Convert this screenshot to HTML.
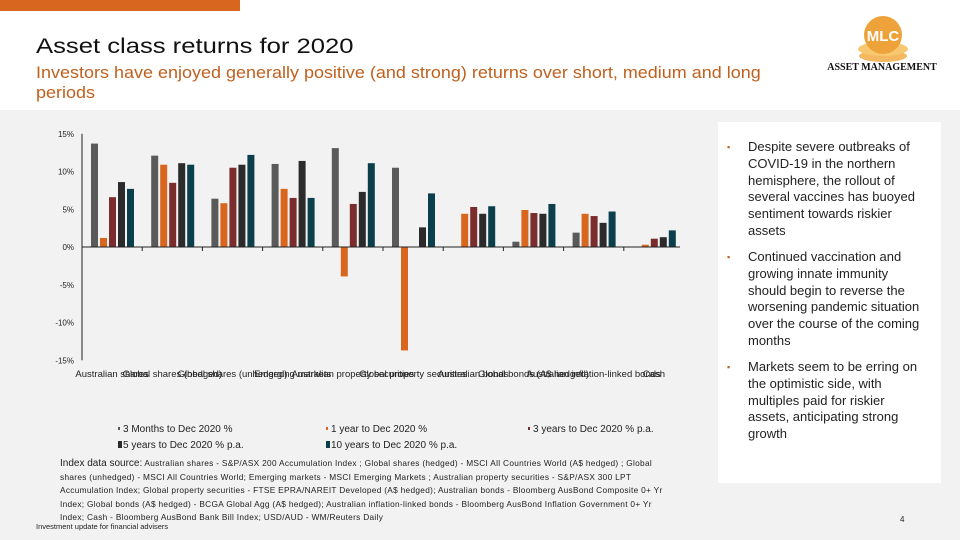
<!DOCTYPE html>
<html><head><meta charset="utf-8"><style>
body{margin:0;width:960px;height:540px;overflow:hidden;background:#f2f2f2;font-family:"Liberation Sans",sans-serif;position:relative}
.abs{position:absolute}
</style></head><body>
<div class="abs" style="left:0;top:0;width:960px;height:110px;background:#fff"></div>
<div class="abs" style="left:0;top:0;width:240px;height:11px;background:#d9661f"></div>
<div class="abs" style="left:36px;top:35px;font-size:21px;color:#111;transform:scaleX(1.22);transform-origin:left top;white-space:nowrap">Asset class returns for 2020</div>
<div class="abs" style="left:36px;top:63px;width:740px;font-size:16.5px;line-height:20px;color:#c0601e;white-space:nowrap;transform:scaleX(1.09);transform-origin:left top">Investors have enjoyed generally positive (and strong) returns over short, medium and long<br>periods</div>
<div class="abs" style="left:824px;top:12px;width:116px;height:62px">
<svg width="116" height="62"><ellipse cx="59" cy="44" rx="24" ry="6" fill="#f4b860"/><ellipse cx="59" cy="37" rx="25" ry="7" fill="#f7c870"/><circle cx="59" cy="23" r="19" fill="#eea23a"/><text x="59" y="29" text-anchor="middle" font-size="15" font-weight="bold" fill="#fff" font-family="Liberation Sans">MLC</text><text x="58" y="58" text-anchor="middle" font-size="10" font-weight="bold" font-family="Liberation Sans Narrow, Liberation Serif" fill="#111">ASSET MANAGEMENT</text></svg></div>
<div class="abs" style="left:718px;top:122px;width:223px;height:361px;background:#fff;font-size:13px;line-height:16.8px;color:#222;white-space:nowrap">
<div style="position:absolute;left:30px;top:17px;width:190px"><span style="position:absolute;left:-21px;color:#c0601e;font-size:9px">▪</span>Despite severe outbreaks of<br>COVID-19 in the northern<br>hemisphere, the rollout of<br>several vaccines has buoyed<br>sentiment towards riskier<br>assets</div>
<div style="position:absolute;left:30px;top:127px;width:190px"><span style="position:absolute;left:-21px;color:#c0601e;font-size:9px">▪</span>Continued vaccination and<br>growing innate immunity<br>should begin to reverse the<br>worsening pandemic situation<br>over the course of the coming<br>months</div>
<div style="position:absolute;left:30px;top:237px;width:190px"><span style="position:absolute;left:-21px;color:#c0601e;font-size:9px">▪</span>Markets seem to be erring on<br>the optimistic side, with<br>multiples paid for riskier<br>assets, anticipating strong<br>growth</div>
</div>
<svg id="chart" class="abs" style="left:0;top:0" width="700" height="460"></svg>
<div class="abs" style="left:60px;top:457px;font-size:8.3px;letter-spacing:0.3px;line-height:13.5px;color:#222;white-space:nowrap"><span style="font-size:10px;letter-spacing:0">Index data source:</span> Australian shares - S&amp;P/ASX 200 Accumulation Index ; Global shares (hedged) - MSCI All Countries World (A$ hedged) ; Global<br>shares (unhedged) - MSCI All Countries World; Emerging markets - MSCI Emerging Markets ; Australian property securities - S&amp;P/ASX 300 LPT<br>Accumulation Index; Global property securities - FTSE EPRA/NAREIT Developed (A$ hedged); Australian bonds - Bloomberg AusBond Composite 0+ Yr<br>Index; Global bonds (A$ hedged) - BCGA Global Agg (A$ hedged); Australian inflation-linked bonds - Bloomberg AusBond Inflation Government 0+ Yr<br>Index; Cash - Bloomberg AusBond Bank Bill Index; USD/AUD - WM/Reuters Daily</div>
<div class="abs" style="left:36px;top:522px;font-size:7.5px;color:#222">Investment update for financial advisers</div>
<div class="abs" style="left:900px;top:515px;font-size:8px;color:#222">4</div>
<script>
const categories=["Australian shares","Global shares (hedged)","Global shares (unhedged)","Emerging markets","Australian property securities","Global property securities","Australian bonds","Global bonds (A$ hedged)","Australian inflation-linked bonds","Cash"];
const seriesNames=["3 Months to Dec 2020 %","1 year to Dec 2020 %","3 years to Dec 2020 % p.a.","5 years to Dec 2020 % p.a.","10 years to Dec 2020 % p.a."];
const s3m=[13.7,12.1,6.4,11.0,13.1,10.5,0,0.7,1.9,0];
const s1y=[1.2,10.9,5.8,7.7,-3.9,-13.7,4.4,4.9,4.4,0.3];
const s3y=[6.6,8.5,10.5,6.5,5.7,0,5.3,4.5,4.1,1.1];
const s5y=[8.6,11.1,10.9,11.4,7.3,2.6,4.4,4.4,3.2,1.3];
const s10y=[7.7,10.9,12.2,6.5,11.1,7.1,5.4,5.7,4.7,2.2];
const yTicks=[15,10,5,0,-5,-10,-15];
const colors=["#5a5a5a","#d9661f","#7b2d2d","#2b2b2b","#0b3f4b"];
const series=[s3m,s1y,s3y,s5y,s10y];
const NS="http://www.w3.org/2000/svg",svg=document.getElementById("chart");
const x0=82,gw=60.2,y=v=>247-v*7.55;
function mk(t,a){const e=document.createElementNS(NS,t);for(const k in a)e.setAttribute(k,a[k]);svg.appendChild(e);return e;}
yTicks.forEach(t=>{const e=mk("text",{x:74,y:y(t)+3,"text-anchor":"end","font-size":"8","fill":"#222","font-family":"Liberation Sans"});e.textContent=t+"%";

});
const ax=mk("line",{x1:x0,x2:x0,y1:y(15),y2:y(-15),stroke:"#222","stroke-width":1});


series.forEach((s,si)=>s.forEach((v,ci)=>{const bx=x0+ci*gw+9+si*9;const r=mk("rect",{x:bx,y:Math.min(y(v),y(0)),width:7,height:Math.abs(y(v)-y(0)),fill:colors[si]});

}));
const zx=mk("line",{x1:x0,x2:x0+gw*categories.length-4,y1:y(0),y2:y(0),stroke:"#222","stroke-width":1});


categories.forEach((c,i)=>{const tx=x0+(i+1)*gw;if(i<categories.length-1){const tk=mk("line",{x1:tx,x2:tx,y1:y(0),y2:y(0)+4,stroke:"#222"});

}
const t=mk("text",{x:x0+i*gw+gw/2,y:377,"text-anchor":"middle","font-size":"9.5","fill":"#222","font-family":"Liberation Sans"});t.textContent=c;

});
const lp=[[118,432],[326,432],[528,432],[118,448],[326,448]];
seriesNames.forEach((n,i)=>{const sq=mk("rect",{x:lp[i][0],y:lp[i][1]-(i<3?5:7),width:i<3?2:4,height:i<3?3:7,fill:colors[i]});


const t=mk("text",{x:lp[i][0]+5,y:lp[i][1],"font-size":"10","fill":"#222","font-family":"Liberation Sans"});t.textContent=n;

});
</script>
</body></html>
